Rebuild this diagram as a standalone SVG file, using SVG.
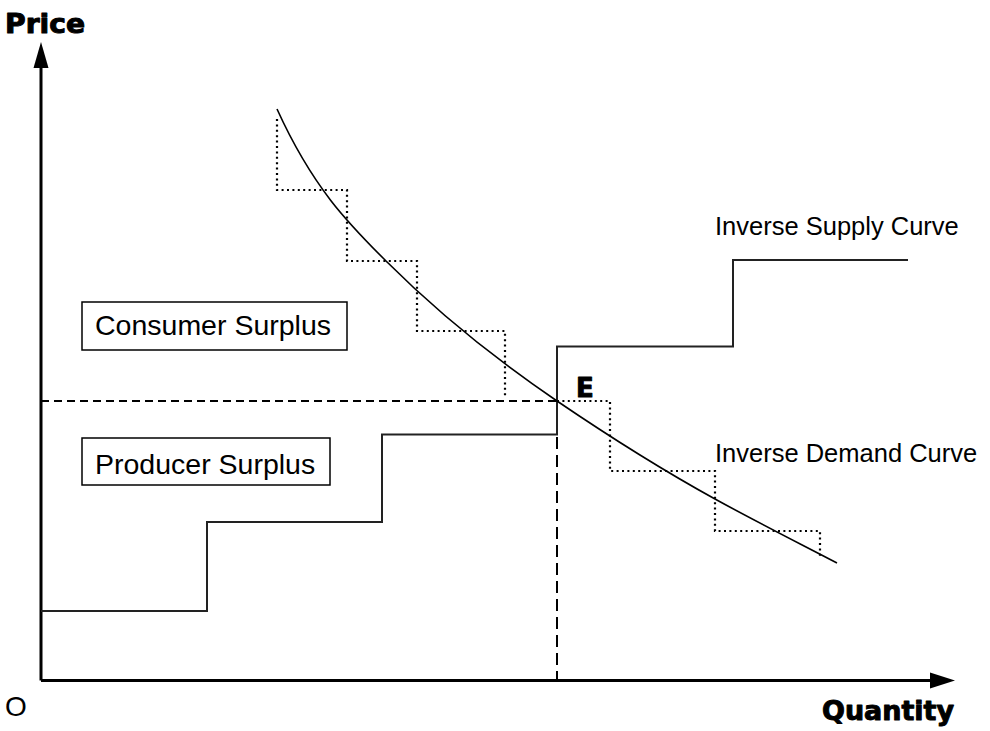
<svg xmlns="http://www.w3.org/2000/svg" width="990" height="731" viewBox="0 0 990 731">
<style>
.axis{stroke:#000;stroke-width:3;fill:none}
.supply{stroke:#222;stroke-width:2;fill:none}
.demand{stroke:#000;stroke-width:1.6;fill:none}
.dot{stroke:#000;stroke-width:2.2;fill:none;stroke-dasharray:2 3.4}
.dashh{stroke:#000;stroke-width:2;fill:none;stroke-dasharray:8 5}
.dashv{stroke:#000;stroke-width:2;fill:none;stroke-dasharray:12 6}
.box{fill:#fff;stroke:#000;stroke-width:1.5}
.lbl{font-family:"Liberation Sans",Arial,sans-serif;fill:#000}
.bold{font-family:"DejaVu Sans",sans-serif;font-weight:bold;fill:#000;stroke:#000;stroke-width:1;stroke-linejoin:round}
</style>
<rect width="990" height="731" fill="#fff"/>
<g id="connectors">
<g id="axes">
<line class="axis" x1="41" y1="680.5" x2="41" y2="66"/>
<polygon points="41,42 33.5,68 48.5,68" fill="#000"/>
<line class="axis" x1="41" y1="680.5" x2="932" y2="680.5"/>
<polygon points="955,680.5 930,672.5 930,688.5" fill="#000"/>
</g>
<g id="equilibrium-lines">
<line class="dashh" x1="41" y1="401" x2="557" y2="401"/>
<line class="dashv" x1="557" y1="401" x2="557" y2="679"/>
</g>
<g id="demand-steps">
<polyline class="dot" points="277,119 277,190 347,190 347,261 417,261 417,331 505,331 505,398"/>
<polyline class="dot" points="557,401 610,401 610,471 715,471 715,531 820,531 820,556"/>
</g>
<path id="supply-curve" class="supply" d="M41,611 H207 V522 H382 V434.5 H557 V346.5 H733 V260 H908"/>
<path id="demand-curve" class="demand" d="M277,109 C313.3,188.9 349.7,224.7 386,261 C443,318 500,362.2 557,401 C609.7,436.8 662.3,470 715,499 C755.7,521.4 796.3,541.8 837,563"/>
</g>
<g id="axis-labels">
<text class="bold" x="5" y="33" font-size="26" textLength="80" lengthAdjust="spacingAndGlyphs">Price</text>
<text class="bold" x="822" y="720" font-size="27" textLength="132" lengthAdjust="spacingAndGlyphs">Quantity</text>
<text class="lbl" x="5" y="716" font-size="28">O</text>
</g>
<g id="node-consumer-surplus">
<rect class="box" x="82" y="302" width="265" height="48"/>
<text class="lbl" x="95" y="335" font-size="28.5">Consumer Surplus</text>
</g>
<g id="node-producer-surplus">
<rect class="box" x="82" y="438" width="248" height="47"/>
<text class="lbl" x="95" y="474" font-size="28.5">Producer Surplus</text>
</g>
<g id="node-e">
<text class="bold" x="576" y="397" font-size="26">E</text>
</g>
<g id="node-supply-label">
<text class="lbl" x="715" y="235" font-size="25.5">Inverse Supply Curve</text>
</g>
<g id="node-demand-label">
<text class="lbl" x="715" y="462" font-size="25.5">Inverse Demand Curve</text>
</g>
</svg>
